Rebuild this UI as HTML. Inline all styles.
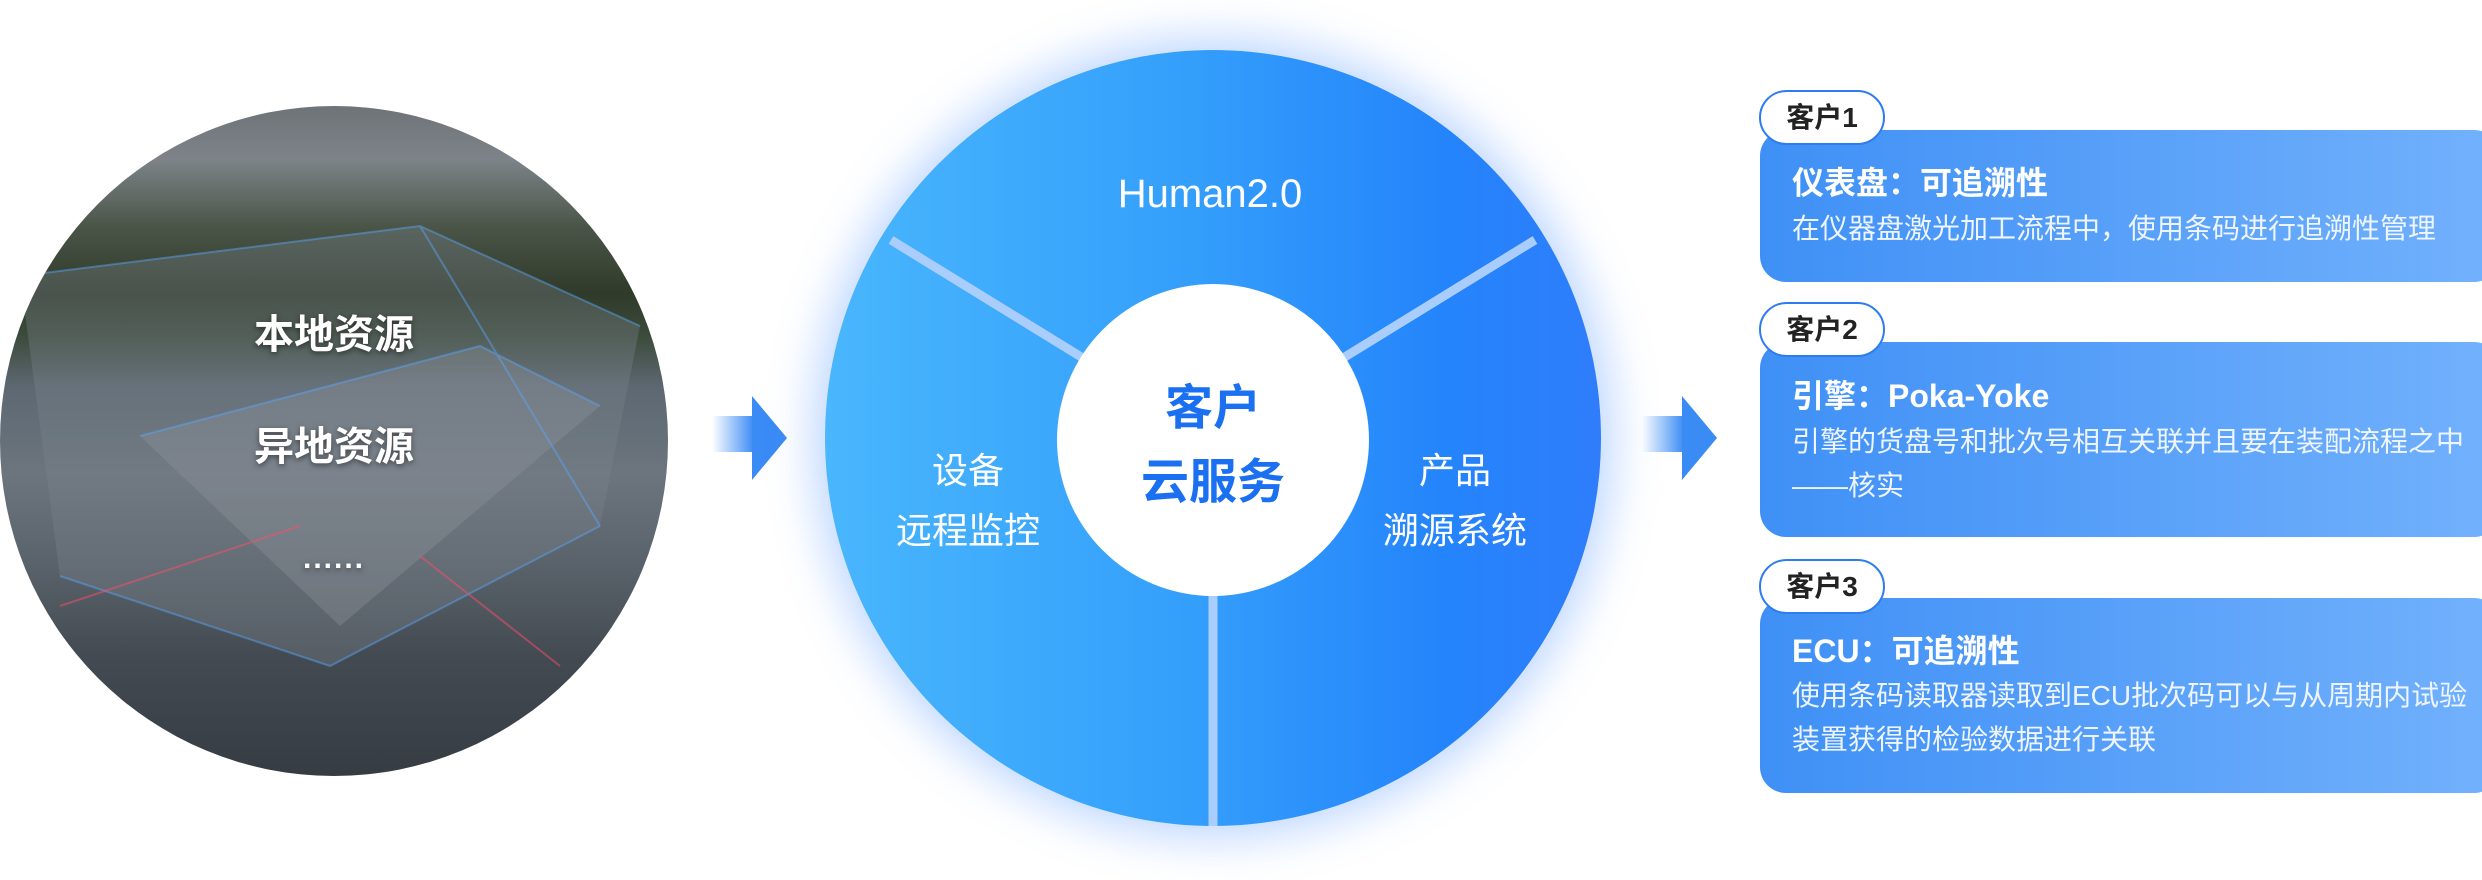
<!DOCTYPE html>
<html><head><meta charset="utf-8"><style>
*{margin:0;padding:0;box-sizing:border-box}
body{width:2482px;height:880px;background:#fff;position:relative;overflow:hidden;font-family:"Liberation Sans","Noto Sans CJK SC",sans-serif}
.abs{position:absolute}
.photo{left:0;top:106px;width:668px;height:670px;border-radius:50%;overflow:hidden;
background:linear-gradient(180deg,#6e7378 0%,#7d8388 8%,#4a5548 18%,#2f3a2a 28%,#3b4a3a 34%,#5d6872 42%,#6c757e 55%,#5a636b 68%,#434a52 82%,#363c42 100%)}
.ptxt{color:#fff;font-weight:bold;font-size:40px;width:668px;text-align:center;text-shadow:0 2px 6px rgba(0,0,0,.5)}
.big{left:825px;top:50px;width:776px;height:776px;border-radius:50%;
background:linear-gradient(90deg,#49b6fd 0%,#35a0fb 45%,#2484fb 80%,#2f7dfb 100%);
box-shadow:0 0 45px 12px rgba(70,140,255,.35)}
.inner{left:1057px;top:284px;width:312px;height:312px;border-radius:50%;background:#fff}
.wt{color:#fff;font-size:36px;text-align:center;line-height:60px}
.card{left:1760px;width:740px;border-radius:26px;background:linear-gradient(90deg,#3f90f6,#72b1fc)}
.tab{left:1759px;width:126px;height:55px;border:2px solid #2d7cf0;border-radius:28px;background:#fff;color:#222;font-size:28px;font-weight:bold;text-align:center;line-height:51px}
.ct{left:1792px;color:#fff;font-size:32px;font-weight:bold}
.cd{left:1792px;color:#eef5ff;font-size:28px;line-height:44px;white-space:nowrap}
</style></head><body>
<div class="abs photo">
<svg width="668" height="670" style="position:absolute;left:0;top:0">
<polygon points="20,170 420,120 640,220 600,420 330,560 60,470" fill="#7c858d" opacity=".35"/>
<polygon points="140,330 480,240 600,300 340,520" fill="#8e969d" opacity=".35"/>
<g stroke="#5aa8ff" stroke-width="2" opacity=".45" fill="none">
<polyline points="20,170 420,120 640,220"/><polyline points="60,470 330,560 600,420"/>
<polyline points="140,330 480,240 600,300"/><line x1="420" y1="120" x2="600" y2="420"/>
</g>
<g stroke="#ff4d6d" stroke-width="2" opacity=".5"><line x1="60" y1="500" x2="300" y2="420"/><line x1="420" y1="450" x2="560" y2="560"/></g>
</svg>
<div class="abs ptxt" style="top:196px">本地资源</div>
<div class="abs ptxt" style="top:308px">异地资源</div>
<div class="abs ptxt" style="top:436px;font-size:30px;letter-spacing:2px">......</div>
</div>
<svg class="abs" style="left:700px;top:390px" width="100" height="100">
<defs><linearGradient id="ag" x1="0" x2="1"><stop offset="0" stop-color="#fff"/><stop offset="1" stop-color="#3b8bf5"/></linearGradient></defs>
<rect x="12" y="26" width="42" height="36" fill="url(#ag)"/><polygon points="52,6 87,48 52,90" fill="#3b8bf5"/></svg>
<svg class="abs" style="left:1630px;top:390px" width="100" height="100">
<rect x="12" y="26" width="42" height="36" fill="url(#ag)"/><polygon points="52,6 87,48 52,90" fill="#3b8bf5"/></svg>
<div class="abs big"></div>
<svg class="abs" style="left:825px;top:50px" width="776" height="776">
<g stroke="#a9cdfc" stroke-width="9"><line x1="388" y1="388" x2="388" y2="776"/><line x1="388" y1="388" x2="66" y2="190"/><line x1="388" y1="388" x2="710" y2="190"/></g></svg>
<div class="abs inner"></div>
<div class="abs wt" style="left:1060px;top:164px;width:300px;font-size:40px">Human2.0</div>
<div class="abs" style="left:1063px;top:372px;width:300px;text-align:center;color:#1a70f0;font-size:48px;font-weight:bold;line-height:74px">客户<br>云服务</div>
<div class="abs wt" style="left:868px;top:441px;width:200px">设备<br>远程监控</div>
<div class="abs wt" style="left:1355px;top:441px;width:200px">产品<br>溯源系统</div>
<div class="abs card" style="top:130px;height:152px"></div>
<div class="abs card" style="top:342px;height:195px"></div>
<div class="abs card" style="top:598px;height:195px"></div>
<div class="abs tab" style="top:90px">客户1</div>
<div class="abs tab" style="top:302px">客户2</div>
<div class="abs tab" style="top:559px">客户3</div>
<div class="abs ct" style="top:158px">仪表盘：可追溯性</div>
<div class="abs cd" style="top:207px">在仪器盘激光加工流程中，使用条码进行追溯性管理</div>
<div class="abs ct" style="top:371px">引擎：Poka-Yoke</div>
<div class="abs cd" style="top:420px">引擎的货盘号和批次号相互关联并且要在装配流程之中<br>——核实</div>
<div class="abs ct" style="top:626px">ECU：可追溯性</div>
<div class="abs cd" style="top:674px">使用条码读取器读取到ECU批次码可以与从周期内试验<br>装置获得的检验数据进行关联</div>
</body></html>
